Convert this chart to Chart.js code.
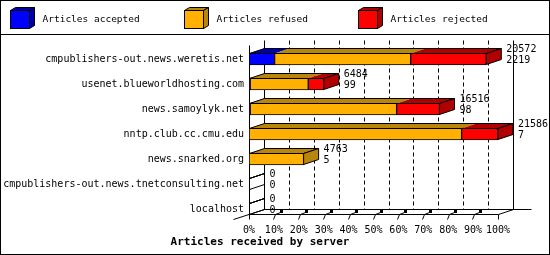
<!DOCTYPE html>
<html lang="en">
<head>
<meta charset="UTF-8">
<title>Articles received by server</title>
<script src="https://cdn.jsdelivr.net/npm/chart.js@4.4.0/dist/chart.umd.min.js"></script>
<style>
  body { margin: 0; background: #fff; }
  canvas { display: block; }
</style>
</head>
<body>
<canvas id="myChart" width="550" height="255"></canvas>
<script>
// data
var servers = [
  'cmpublishers-out.news.weretis.net',
  'usenet.blueworldhosting.com',
  'news.samoylyk.net',
  'nntp.club.cc.cmu.edu',
  'news.snarked.org',
  'cmpublishers-out.news.tnetconsulting.net',
  'localhost'
];
var accepted = [2219, 99, 98, 7, 5, 0, 0];
var refused  = [11793, 5040, 12701, 18425, 4730, 0, 0];
var rejected = [6560, 1345, 3717, 3154, 28, 0, 0];
var received = [20572, 6484, 16516, 21586, 4763, 0, 0];
var percentTicks = [0, 10, 20, 30, 40, 50, 60, 70, 80, 90, 100];
var seriesNames = ['Articles accepted', 'Articles refused', 'Articles rejected'];

var faceColors = ['#0000ff', '#ffb000', '#ff0000'];
var darkColors = ['#0000a8', '#b8860b', '#b00000'];
var maxTotal = Math.max.apply(null, received);

var DX = 15, DY = 5, BAR = 12;
var MONO = '"DejaVu Sans Mono", "Liberation Mono", monospace';

function line(c, x1, y1, x2, y2) {
  c.beginPath(); c.moveTo(x1, y1); c.lineTo(x2, y2); c.stroke();
}
function poly(c, pts, fill) {
  c.beginPath();
  c.moveTo(pts[0][0], pts[0][1]);
  for (var i = 1; i < pts.length; i++) c.lineTo(pts[i][0], pts[i][1]);
  c.closePath();
  if (fill) { c.fillStyle = fill; c.fill(); }
  c.stroke();
}
function floorY(chart) {
  var y = chart.scales.y;
  return Math.round(y.getPixelForValue(servers.length - 1) + BAR / 2) - 0.5;
}

var depthPlugin = {
  id: 'depth3d',
  beforeDraw: function(chart) {
    var c = chart.ctx;
    c.save();
    c.fillStyle = '#fff';
    c.fillRect(0, 0, chart.width, chart.height);
    c.restore();
  },
  beforeDatasetsDraw: function(chart) {
    var c = chart.ctx, x = chart.scales.x, ca = chart.chartArea;
    var top = Math.round(ca.top) - 1.5;
    var fl = floorY(chart);
    var left = Math.round(ca.left) + 0.5, right = Math.round(ca.right) + 0.5;
    c.save();
    c.strokeStyle = '#000';
    c.lineWidth = 1;
    // back wall grid
    percentTicks.forEach(function(p, i) {
      var px = Math.round(x.getPixelForValue(maxTotal * p / 100) + DX) + 0.5;
      c.setLineDash(i === 0 || i === percentTicks.length - 1 ? [] : [4, 3]);
      line(c, px, top - DY, px, fl - DY);
    });
    c.setLineDash([]);
    // floor
    line(c, left, fl, right, fl);
    line(c, left + DX, fl - DY, right + DX + 18, fl - DY);
    line(c, left - 16, fl + 5, left + DX, fl - DY);
    line(c, right, fl, right + DX, fl - DY);
    // front left axis
    line(c, left, top, left, fl);
    // 3d ticks on the floor
    c.fillStyle = '#000';
    percentTicks.forEach(function(p, i) {
      var px = Math.round(x.getPixelForValue(maxTotal * p / 100)) + 0.5;
      if (i === 0 || i === percentTicks.length - 1) {
        line(c, px, fl, px, fl + 5);
      } else {
        line(c, px - 1, fl + 5, px + 1, fl);
        line(c, px + 1, fl, px + 6, fl - 2);
        c.fillRect(px + 5.5, fl - 4.5, 3, 3);
      }
    });
    c.restore();
  },
  afterDatasetsDraw: function(chart) {
    var c = chart.ctx, x = chart.scales.x, ca = chart.chartArea;
    var left = Math.round(ca.left) + 0.5;
    c.save();
    c.strokeStyle = '#000';
    c.lineWidth = 1;
    servers.forEach(function(name, i) {
      var T = null, B = null, start = left, end = left, lastDs = -1;
      chart.data.datasets.forEach(function(ds, d) {
        var el = chart.getDatasetMeta(d).data[i];
        T = Math.round(el.y - BAR / 2) + 0.5;
        B = Math.round(el.y + BAR / 2) - 0.5;
        var x0 = el.base, x1 = el.x;
        if (x1 - x0 > 0.5) {
          c.beginPath();
          c.moveTo(x0, T); c.lineTo(x1, T);
          c.lineTo(x1 + DX, T - DY); c.lineTo(x0 + DX, T - DY);
          c.closePath();
          c.fillStyle = darkColors[d];
          c.fill();
          end = x1;
          lastDs = d;
        }
      });
      // outline of the top face
      poly(c, [[start, T], [end, T], [end + DX, T - DY], [start + DX, T - DY]], null);
      // right side face
      poly(c, [[end, T], [end + DX, T - DY], [end + DX, B - DY], [end, B]],
        lastDs >= 0 ? darkColors[lastDs] : null);
      // value labels
      c.fillStyle = '#000';
      c.font = '10px ' + MONO;
      c.textAlign = 'left';
      c.textBaseline = 'middle';
      c.fillText(String(received[i]), end + DX + 5, T - 4);
      c.fillText(String(accepted[i]), end + DX + 5, T + 7);
    });
    c.restore();
  },
  afterDraw: function(chart) {
    var c = chart.ctx;
    c.save();
    c.strokeStyle = '#000';
    c.lineWidth = 1;
    // frame and legend separator
    c.strokeRect(0.5, 0.5, chart.width - 1, chart.height - 1);
    line(c, 0, 34.5, chart.width, 34.5);
    // legend with little cubes
    seriesNames.forEach(function(name, k) {
      var bx = 10.5 + 174 * k, by = 10.5, w = 19, h = 18, ldx = 5, ldy = 3;
      poly(c, [[bx, by], [bx + w, by], [bx + w + ldx, by - ldy], [bx + ldx, by - ldy]], darkColors[k]);
      poly(c, [[bx + w, by], [bx + w + ldx, by - ldy], [bx + w + ldx, by + h - ldy], [bx + w, by + h]], darkColors[k]);
      c.fillStyle = faceColors[k];
      c.fillRect(bx, by, w, h);
      c.strokeRect(bx, by, w, h);
      c.fillStyle = '#000';
      c.font = '9.5px ' + MONO;
      c.textAlign = 'left';
      c.textBaseline = 'middle';
      c.fillText(name, bx + 32, 20);
    });
    // axis title
    c.font = 'bold 11px ' + MONO;
    c.textAlign = 'center';
    c.fillText('Articles received by server', 260, 242);
    c.restore();
  }
};

var ctx = document.getElementById('myChart').getContext('2d');
var seriesData = [accepted, refused, rejected];

var myChart = new Chart(ctx, {
  type: 'bar',
  data: {
    labels: servers,
    datasets: seriesData.map(function(vals, d) {
      return {
        label: seriesNames[d],
        data: vals,
        backgroundColor: faceColors[d],
        borderColor: '#000',
        borderWidth: 1,
        borderSkipped: false,
        barThickness: BAR
      };
    })
  },
  options: {
    indexAxis: 'y',
    responsive: false,
    animation: false,
    devicePixelRatio: 1,
    layout: { padding: { top: 46.5, right: 52, bottom: 0, left: 0 } },
    plugins: {
      legend: { display: false },
      tooltip: { enabled: false }
    },
    scales: {
      x: {
        stacked: true,
        min: 0,
        max: maxTotal,
        grid: { display: false, drawTicks: false },
        border: { display: false },
        afterBuildTicks: function(s) {
          s.ticks = percentTicks.map(function(p) { return { value: maxTotal * p / 100 }; });
        },
        afterFit: function(s) { s.height = 33.5; },
        ticks: {
          autoSkip: false,
          maxRotation: 0,
          minRotation: 0,
          padding: 3,
          color: '#000',
          font: { family: MONO, size: 10 },
          callback: function(v) { return Math.round(v / maxTotal * 100) + '%'; }
        }
      },
      y: {
        stacked: true,
        grid: { display: false, drawTicks: false },
        border: { display: false },
        afterFit: function(s) { s.width = 249; },
        ticks: {
          padding: 5,
          color: '#000',
          font: { family: MONO, size: 10 }
        }
      }
    }
  },
  plugins: [depthPlugin]
});
</script>
</body>
</html>
